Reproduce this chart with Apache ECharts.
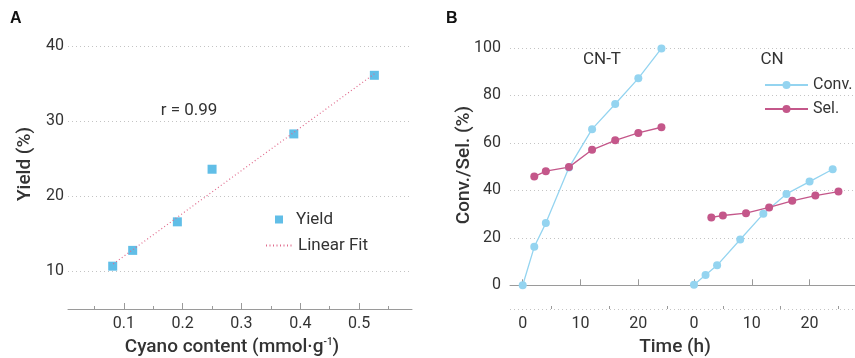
<!DOCTYPE html>
<html>
<head>
<meta charset="utf-8">
<script src="https://cdn.jsdelivr.net/npm/echarts@6/dist/echarts.min.js"></script>
<style>
html, body { margin: 0; padding: 0; background: #fff; }
#main { width: 855px; height: 358px; }
</style>
</head>
<body>
<div id="main"></div>
<script>
// A: yield vs cyano content
var yieldX = [0.081, 0.115, 0.191, 0.250, 0.389, 0.526];
var yieldY = [10.7, 12.8, 16.6, 23.6, 28.3, 36.1];
var fitX = [0.082, 0.526];
var fitY = [11.0, 36.3];
var ticksA = [0.1, 0.2, 0.3, 0.4, 0.5];
var minorA = [0.05, 0.15, 0.25, 0.35, 0.45, 0.55];

// B: conversion / selectivity over time
var cntConvTime = [0, 2, 4, 8, 12, 16, 20, 24];
var cntConv = [0, 16.2, 26.2, 49.6, 65.8, 76.4, 87.2, 99.8];
var cntSelTime = [2, 4, 8, 12, 16, 20, 24];
var cntSel = [45.8, 48.1, 49.8, 57.1, 61.1, 64.2, 66.6];
var cnConvTime = [0, 2, 4, 8, 12, 16, 20, 24];
var cnConv = [0.2, 4.3, 8.4, 19.3, 30.1, 38.5, 43.7, 48.9];
var cnSelTime = [3, 5, 9, 13, 17, 21, 25];
var cnSel = [28.6, 29.4, 30.4, 32.8, 35.6, 37.8, 39.5];
var ticksB = [0, 10, 20];
var minorB = [5, 15, 25];

var FONT = 'Roboto';
var C_SQ = '#3aaee1', C_FIT = '#e06a8c', C_CONV = '#94d4f0', C_SEL = '#c4578a';

function pairs(xs, ys) {
	var out = [];
	for (var i = 0; i < xs.length; i++) out.push([xs[i], ys[i]]);
	return out;
}

var gridLine = { show: true, lineStyle: { color: '#c4c4c4', width: 1, type: [1, 3] } };
var axisLineX = { show: true, lineStyle: { color: '#9a9a9a', width: 1 } };
var legendText = { fontFamily: FONT, fontSize: 16, color: '#333' };

function majorX(grid, min, max, ticks, fmt) {
	return {
		type: 'value', gridIndex: grid, position: 'bottom', min: min, max: max,
		axisLine: axisLineX,
		axisTick: { show: true, inside: true, length: 6, customValues: ticks, lineStyle: { color: '#9a9a9a' } },
		axisLabel: { customValues: ticks, formatter: fmt, margin: 7, fontFamily: FONT, fontSize: 16, color: '#333' },
		splitLine: { show: false }
	};
}
function minorX(grid, min, max, ticks) {
	return {
		type: 'value', gridIndex: grid, position: 'bottom', min: min, max: max,
		axisLine: { show: false },
		axisTick: { show: true, inside: true, length: 3, customValues: ticks, lineStyle: { color: '#9a9a9a' } },
		axisLabel: { show: false },
		splitLine: { show: false }
	};
}

var chart = echarts.init(document.getElementById('main'), null, { renderer: 'canvas' });
var option = {
	animation: false,
	backgroundColor: '#fff',
	grid: [
		{ left: 68, top: 46, width: 344, height: 263 },
		{ left: 510, top: 48, width: 170, height: 261 },
		{ left: 680, top: 48, width: 175, height: 261 }
	],
	xAxis: [
		majorX(0, 0.005, 0.59, ticksA, function (v) { return v.toFixed(1); }),
		minorX(0, 0.005, 0.59, minorA),
		majorX(1, -2.2, 27.21, ticksB, function (v) { return String(v); }),
		minorX(1, -2.2, 27.21, minorB),
		majorX(2, -2.42, 27.86, ticksB, function (v) { return String(v); }),
		minorX(2, -2.42, 27.86, minorB)
	],
	yAxis: [
		{
			type: 'value', gridIndex: 0, min: 5, max: 40, splitNumber: 4,
			axisLine: { show: false }, axisTick: { show: false },
			axisLabel: { margin: 4, fontFamily: FONT, fontSize: 16, color: '#333',
				formatter: function (v) { return v % 10 === 0 ? String(v) : ''; } },
			splitLine: gridLine
		},
		{
			type: 'value', gridIndex: 1, min: -10, max: 100, splitNumber: 5,
			axisLine: { show: false }, axisTick: { show: false },
			axisLabel: { margin: 9, fontFamily: FONT, fontSize: 16, color: '#333',
				formatter: function (v) { return v < 0 ? '' : String(v); } },
			splitLine: gridLine
		},
		{
			type: 'value', gridIndex: 2, min: -10, max: 100, splitNumber: 5,
			axisLine: { show: false }, axisTick: { show: false },
			axisLabel: { show: false },
			splitLine: gridLine
		}
	],
	legend: [
		{
			data: ['Yield'], left: 275, top: 211, padding: 0,
			itemWidth: 8, itemHeight: 8, selectedMode: false,
			textStyle: { fontFamily: FONT, fontSize: 17, color: '#333', padding: [0, 0, 0, 8] }
		},
		{
			data: ['Linear Fit'], left: 265, top: 237, padding: 0,
			itemWidth: 27, itemHeight: 8, selectedMode: false,
			itemStyle: { opacity: 0 },
			textStyle: { fontFamily: FONT, fontSize: 17, color: '#333' }
		},
		{
			data: ['Conv.', 'Sel.'], orient: 'vertical', left: 764, top: 77, padding: 0,
			itemWidth: 43, itemHeight: 10, itemGap: 8, selectedMode: false,
			textStyle: legendText
		}
	],
	series: [
		{
			name: 'Yield', type: 'scatter', xAxisIndex: 0, yAxisIndex: 0,
			symbol: 'rect', symbolSize: 9, itemStyle: { color: C_SQ },
			data: pairs(yieldX, yieldY)
		},
		{
			name: 'Linear Fit', type: 'line', xAxisIndex: 0, yAxisIndex: 0,
			symbol: 'none', lineStyle: { color: C_FIT, width: 1.2, type: [1, 2.5] },
			itemStyle: { color: C_FIT },
			data: pairs(fitX, fitY)
		},
		{
			name: 'Conv.', type: 'line', xAxisIndex: 2, yAxisIndex: 1,
			symbol: 'circle', symbolSize: 8, itemStyle: { color: C_CONV },
			lineStyle: { color: C_CONV, width: 1.3 },
			data: pairs(cntConvTime, cntConv)
		},
		{
			name: 'Sel.', type: 'line', xAxisIndex: 2, yAxisIndex: 1,
			symbol: 'circle', symbolSize: 8, itemStyle: { color: C_SEL },
			lineStyle: { color: C_SEL, width: 1.3 },
			data: pairs(cntSelTime, cntSel)
		},
		{
			name: 'Conv.', type: 'line', xAxisIndex: 4, yAxisIndex: 2,
			symbol: 'circle', symbolSize: 8, itemStyle: { color: C_CONV },
			lineStyle: { color: C_CONV, width: 1.3 },
			data: pairs(cnConvTime, cnConv)
		},
		{
			name: 'Sel.', type: 'line', xAxisIndex: 4, yAxisIndex: 2,
			symbol: 'circle', symbolSize: 8, itemStyle: { color: C_SEL },
			lineStyle: { color: C_SEL, width: 1.3 },
			data: pairs(cnSelTime, cnSel)
		}
	],
	graphic: [
		{ type: 'text', left: 10, top: 11, style: { text: 'A', font: 'bold 16px "Liberation Sans"', fill: '#111' } },
		{ type: 'text', left: 446, top: 11, style: { text: 'B', font: 'bold 16px "Liberation Sans"', fill: '#111' } },
		{ type: 'text', x: 189, y: 111, style: { text: 'r = 0.99', font: '17px Roboto', fill: '#333', align: 'center', verticalAlign: 'middle' } },
		{ type: 'text', x: 602, y: 60, style: { text: 'CN-T', font: '17px Roboto', fill: '#333', align: 'center', verticalAlign: 'middle' } },
		{ type: 'text', x: 772, y: 60, style: { text: 'CN', font: '17px Roboto', fill: '#333', align: 'center', verticalAlign: 'middle' } },
		{
			type: 'text', x: 232, y: 347,
			style: {
				text: 'Cyano content (mmol·g{sup|-1})', font: '500 19px Roboto', fill: '#333',
				align: 'center', verticalAlign: 'middle',
				rich: { sup: { fontFamily: FONT, fontSize: 10, fontWeight: 500, verticalAlign: 'top', fill: '#333' } }
			}
		},
		{ type: 'text', x: 675, y: 347, style: { text: 'Time (h)', font: '500 19px Roboto', fill: '#333', align: 'center', verticalAlign: 'middle' } },
		{ type: 'text', x: 25, y: 164, rotation: Math.PI / 2, style: { text: 'Yield (%)', font: '500 19px Roboto', fill: '#333', align: 'center', verticalAlign: 'middle' } },
		{ type: 'text', x: 464, y: 165, rotation: Math.PI / 2, style: { text: 'Conv./Sel. (%)', font: '500 19px Roboto', fill: '#333', align: 'center', verticalAlign: 'middle' } }
	]
};
chart.setOption(option);
</script>
</body>
</html>
